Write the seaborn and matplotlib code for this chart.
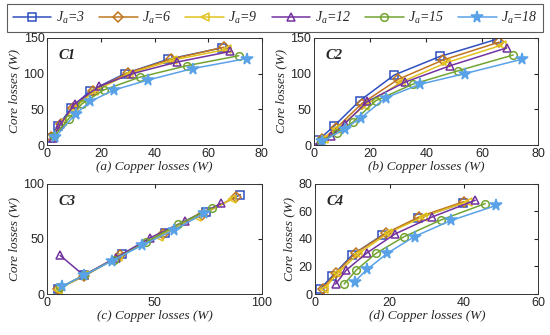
import matplotlib
matplotlib.use("Agg")
import matplotlib.pyplot as plt
import seaborn as sns

# Ja values and style per series
ja_vals = [3, 6, 9, 12, 15, 18]
colors = ["#2f4fbf", "#c0761f", "#e2c21e", "#7232a0", "#72a432", "#5aa2e8"]
markers = ["s", "D", "<", "^", "o", "*"]

# C1 data (copper losses, core losses)
c1_x = [[1, 4, 9, 16, 29, 45, 65],
        [1.5, 5, 9.5, 17, 30, 46, 66],
        [2, 5.5, 10, 17.5, 30.5, 47, 67],
        [2, 4.9, 10.3, 19.3, 31.8, 48.2, 68.3],
        [2.5, 8, 13, 21, 34.5, 52, 71.4],
        [3, 10.6, 16.1, 24.8, 37.6, 54.2, 74.3]]
c1_y = [[10, 27, 52, 76, 100, 120, 136],
        [11, 30, 52, 76, 101, 120, 137],
        [12, 32, 52, 75, 100, 119, 134],
        [10, 29, 58, 82, 100, 116, 131],
        [12, 37, 58, 77, 95, 111, 125],
        [11, 44, 61, 77, 91, 107, 121]]

# C2 data
c2_x = [[1.4, 7.1, 16.3, 28.6, 44.9, 65.1],
        [3, 8, 17, 30, 46, 66],
        [3.5, 8, 18, 31, 47, 67],
        [2, 6, 11, 19, 32.4, 48.5, 68.7],
        [2.5, 8.3, 13.8, 22, 35.1, 51.4, 71],
        [3, 11, 16.7, 25.5, 37.7, 53.8, 74]]
c2_y = [[6.5, 26.5, 62, 98, 124, 148],
        [8, 24, 58, 92, 119, 144],
        [8, 22, 55, 88, 115, 140],
        [5, 12.5, 30, 61, 88, 111, 136],
        [5, 17, 32, 62, 85, 104, 126],
        [5, 23, 38, 66, 85, 100, 120]]

# C3 data
c3_x = [[5, 17, 35, 55, 74, 90],
        [5, 17, 34, 54, 72, 88],
        [5, 17, 33, 52, 70, 86],
        [6, 17, 32, 48, 64, 81],
        [6, 17, 31, 46, 61, 77],
        [7, 17, 30, 44, 59, 73]]
c3_y = [[5, 17, 36, 55, 74, 90],
        [5, 16, 35, 54, 72, 88],
        [4, 17, 34, 52, 70, 86],
        [35, 17, 33, 51, 66, 82],
        [6, 17, 31, 47, 63, 78],
        [7, 17, 30, 44, 58, 73]]

# C4 data
c4_x = [[1.3, 4.6, 10, 18, 27.7, 39.6],
        [2, 5.5, 11, 19, 28, 40],
        [2.5, 6, 11.5, 19.5, 29, 41],
        [5.5, 8.4, 14, 21.5, 31.4, 43],
        [7.8, 11.1, 16.4, 24, 33.9, 45.7],
        [10.6, 14, 19.4, 26.7, 36.5, 48.7]]
c4_y = [[3.6, 13.1, 28.4, 42.7, 55, 65.7],
        [4, 15, 30, 44, 56, 67],
        [4, 15, 29, 44, 56, 67],
        [7.3, 17.5, 30, 43.6, 55.8, 67.9],
        [7.3, 17.5, 29.6, 41.7, 53.8, 65.5],
        [9, 18, 29.6, 41.7, 53.3, 64.2]]

panels = [("C1", "(a) Copper losses (W)", c1_x, c1_y, (0, 80), (0, 150), [0, 20, 40, 60, 80], [0, 50, 100, 150]),
          ("C2", "(b) Copper losses (W)", c2_x, c2_y, (0, 80), (0, 150), [0, 20, 40, 60, 80], [0, 50, 100, 150]),
          ("C3", "(c) Copper losses (W)", c3_x, c3_y, (0, 100), (0, 100), [0, 50, 100], [0, 50, 100]),
          ("C4", "(d) Copper losses (W)", c4_x, c4_y, (0, 60), (0, 80), [0, 20, 40, 60], [0, 20, 40, 60, 80])]

sns.set_style("white")
plt.rcParams["font.family"] = ["Liberation Sans", "DejaVu Sans"]
plt.rcParams["mathtext.fontset"] = "custom"
plt.rcParams["mathtext.it"] = "Liberation Serif:italic"
plt.rcParams["mathtext.rm"] = "Liberation Serif:italic"

fig = plt.figure(figsize=(5.5, 3.35), dpi=100)
boxes = [[0.086, 0.567, 0.390, 0.320],
         [0.571, 0.567, 0.408, 0.320],
         [0.086, 0.122, 0.390, 0.330],
         [0.573, 0.122, 0.406, 0.330]]

serif = "Liberation Serif"
handles = []
for k, (name, xlab, xs, ys, xl, yl, xt, yt) in enumerate(panels):
    ax = fig.add_axes(boxes[k])
    for i in range(len(ja_vals)):
        mfc = colors[i] if markers[i] == "*" else "none"
        ms = 8.5 if markers[i] == "*" else 5.5
        sns.lineplot(x=xs[i], y=ys[i], ax=ax, color=colors[i], marker=markers[i],
                     markersize=ms, markerfacecolor=mfc, markeredgecolor=colors[i],
                     markeredgewidth=1.1, linewidth=1.1, sort=False, estimator=None)
    ax.set_xlim(*xl)
    ax.set_ylim(*yl)
    ax.set_xticks(xt)
    ax.set_yticks(yt)
    ax.tick_params(direction="in", top=True, right=True, length=3, labelsize=9, pad=2)
    for s in ax.spines.values():
        s.set_color("#333333")
        s.set_linewidth(0.7)
    ax.set_xlabel(xlab, family=serif, style="italic", fontsize=9.5, labelpad=1)
    ax.set_ylabel("Core losses (W)", family=serif, style="italic", fontsize=9.5, labelpad=2)
    ax.text(0.05, 0.84, name, transform=ax.transAxes, family=serif, style="italic",
            weight="bold", fontsize=10.5, va="center")
    if k == 0:
        handles = ax.get_lines()[:len(ja_vals)]

labels = [r"$J_a$=%d" % v for v in ja_vals]
leg = fig.legend(handles, labels, loc="upper center", bbox_to_anchor=(0.5, 0.995), ncol=6,
                 frameon=True, fancybox=False, edgecolor="#333333", handlelength=2.8,
                 columnspacing=1.0, handletextpad=0.3, borderpad=0.4, borderaxespad=0.2,
                 prop={"family": serif, "style": "italic", "size": 10})
leg.get_frame().set_linewidth(0.8)

fig.savefig("out.png", dpi=100)
